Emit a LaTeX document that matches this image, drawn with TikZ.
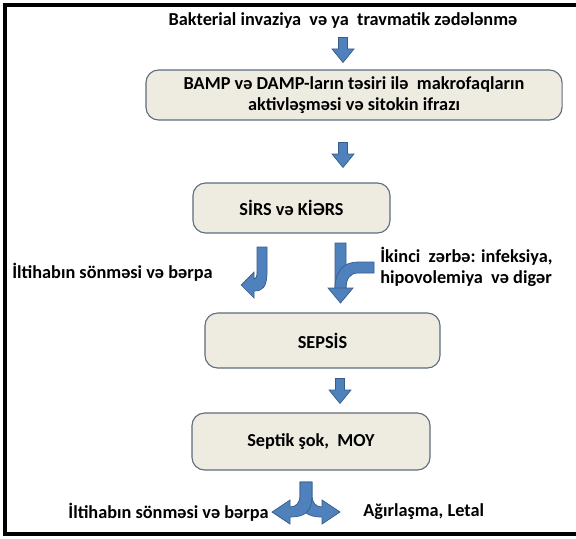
\documentclass[tikz,border=0pt]{standalone}
\usepackage{fontspec}
\setmainfont{Carlito}
\usetikzlibrary{positioning,calc}
\definecolor{boxfill}{RGB}{238,236,225}
\definecolor{boxline}{RGB}{95,108,125}
\definecolor{arrfill}{RGB}{79,129,189}
\definecolor{arrline}{RGB}{56,93,138}

\begin{document}
\begin{tikzpicture}[x=0.025cm,y=-0.025cm,
  font=\fontsize{13}{14.5}\selectfont\bfseries,
  stage/.style={draw=boxline, fill=boxfill, rounded corners=9pt, align=center, line width=0.8pt},
  blk/.style={fill=arrfill, draw=arrline, line width=0.5pt},
  txt/.style={inner sep=0pt, align=left},
  dnarrow/.pic={\path[blk] (-4.5,-12.5) -- (4.5,-12.5) -- (4.5,-1) -- (11,-1) -- (0,12.5)
    -- (-11,-1) -- (-4.5,-1) -- cycle;}]
  \useasboundingbox (0,0) rectangle (576,538);
  % frame
  \draw[line width=2.2pt] (590,5) -- (5,5) -- (5,534) -- (590,534);

  % stages
  \node[txt, anchor=center] (src) at (343,21)
    {Bakterial invaziya\ \ və ya\ \ travmatik zədələnmə};
  \node[stage, minimum width=10.4cm, minimum height=1.25cm] (mak) at (354,95)
    {BAMP və DAMP-ların təsiri ilə\ \ makrofaqların\\ aktivləşməsi və sitokin ifrazı};
  \node[stage, minimum width=4.925cm, minimum height=1.25cm] (sirs) at (291.5,208)
    {SİRS və KİƏRS};
  \node[stage, minimum width=5.875cm, minimum height=1.375cm] (seps) at (322.5,340.5)
    {SEPSİS};
  \node[stage, minimum width=5.95cm, minimum height=1.425cm] (sok) at (311,441.5)
    {Septik şok,\ \ MOY};

  % side texts
  \node[txt, anchor=west] (bar1) at (12,272) {İltihabın sönməsi və bərpa};
  \node[txt, anchor=west] (zer) at (380,267)
    {İkinci\ \ zərbə: infeksiya,\\ hipovolemiya\ \ və digər};
  \node[txt, anchor=east] (bar2) at (269,512) {İltihabın sönməsi və bərpa};
  \node[txt, anchor=west] (let) at (363,512) {Ağırlaşma, Letal};

  % straight block arrows
  \coordinate (k1) at (343,50);
  \coordinate (k2) at (343,155);
  \coordinate (k3) at (340,391);
  \pic at (k1) {dnarrow};
  \pic at (k2) {dnarrow};
  \pic at (k3) {dnarrow};

  % SIRS -> recovery (bent left)
  \path[blk] (257,247) -- (267,247) -- (267,272)
    .. controls (267,288) and (262,291) .. (254,291) -- (254,298) -- (241,285)
    -- (254,272) -- (254,279) .. controls (256,279) and (257,277) .. (257,272) -- cycle;

  % SIRS -> SEPSIS with second hit joining
  \path[blk] (335,243) -- (346,243) -- (346,288) -- (353,288) -- (340.5,303)
    -- (328,288) -- (335,288) -- cycle;
  \path[blk] (374,262) -- (358,262) .. controls (343,262) and (335,272) .. (335,288)
    -- (346,288) .. controls (346,279) and (350,273) .. (358,273) -- (374,273) -- cycle;

  % Septik sok -> two outcomes
  \path[blk] (300,482) -- (312,482) -- (312,495) .. controls (312,503) and (316,507) .. (322,507)
    -- (322,500) -- (340,512) -- (322,524) -- (322,517) .. controls (307,517) and (300,512) .. (300,495) -- cycle;
  \path[blk] (312,482) -- (300,482) -- (300,495) .. controls (300,503) and (296,507) .. (290,507)
    -- (290,500) -- (272,512) -- (290,524) -- (290,517) .. controls (305,517) and (312,512) .. (312,495) -- cycle;
\end{tikzpicture}
\end{document}
